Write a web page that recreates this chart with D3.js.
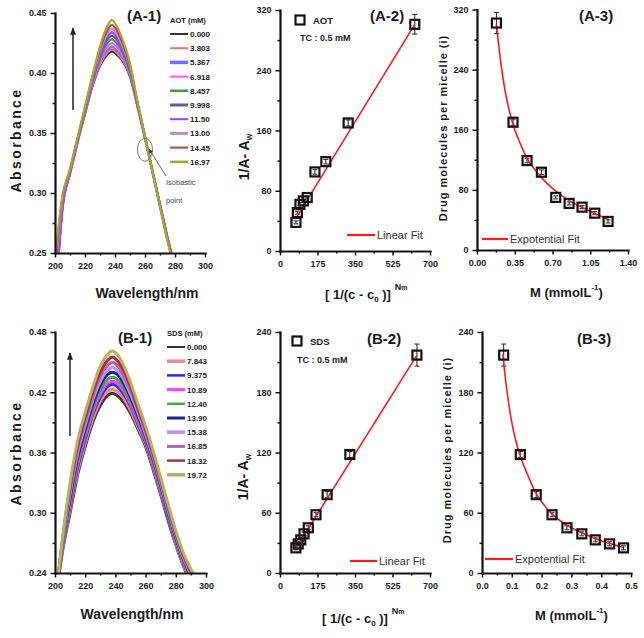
<!DOCTYPE html>
<html><head><meta charset="utf-8">
<script src="https://cdn.jsdelivr.net/npm/d3@7"></script>
<style>
body{margin:0;background:#fff}
svg{display:block}
text{font-family:"Liberation Sans Narrow","Liberation Sans",Arial,sans-serif}
</style></head><body>
<svg id="c" width="644" height="638"></svg>
<script>
// ---------------- DATA ----------------
// (A-1) AOT spectra
const wavelengthsA = [200,205,210,215,220,225,230,235,238,241,245,250,255,260,265,270,275,280];
const aotConc = ["0.000","3.803","5.367","6.918","8.457","9.998","11.50","13.00","14.45","16.97"];
const aotSpectra = [
  [0.200,0.288,0.316,0.342,0.366,0.389,0.406,0.4155,0.418,0.4155,0.410,0.397,0.372,0.346,0.318,0.290,0.263,0.238],
  [0.204,0.289,0.316,0.342,0.367,0.390,0.407,0.417,0.420,0.417,0.411,0.398,0.372,0.346,0.318,0.290,0.263,0.238],
  [0.207,0.290,0.317,0.343,0.367,0.390,0.409,0.419,0.422,0.419,0.413,0.399,0.373,0.346,0.318,0.290,0.262,0.237],
  [0.212,0.291,0.317,0.343,0.368,0.391,0.410,0.422,0.425,0.422,0.415,0.400,0.373,0.346,0.318,0.290,0.262,0.237],
  [0.217,0.292,0.318,0.344,0.368,0.393,0.412,0.425,0.428,0.425,0.417,0.401,0.374,0.346,0.318,0.290,0.262,0.237],
  [0.223,0.293,0.318,0.344,0.369,0.394,0.414,0.428,0.431,0.428,0.419,0.403,0.374,0.347,0.318,0.290,0.262,0.236],
  [0.205,0.287,0.319,0.345,0.370,0.395,0.416,0.430,0.434,0.430,0.421,0.404,0.375,0.347,0.318,0.289,0.261,0.236],
  [0.233,0.295,0.319,0.345,0.370,0.396,0.418,0.433,0.437,0.433,0.423,0.405,0.375,0.347,0.318,0.289,0.261,0.235],
  [0.238,0.297,0.319,0.345,0.371,0.397,0.420,0.436,0.440,0.436,0.425,0.406,0.375,0.347,0.318,0.289,0.261,0.235],
  [0.245,0.298,0.320,0.346,0.372,0.398,0.422,0.4395,0.444,0.4395,0.428,0.408,0.376,0.347,0.318,0.289,0.260,0.234]
];
// (B-1) SDS spectra
const wavelengthsB = [202,205,210,215,220,225,230,235,238,241,245,250,255,260,265,270,275,280,285,290,295];
const sdsConc = ["0.000","7.843","9.375","10.89","12.40","13.90","15.38","16.85","18.32","19.72"];
const sdsSpectra = [
  [0.232,0.262,0.300,0.338,0.366,0.390,0.407,0.417,0.419,0.417,0.411,0.399,0.383,0.366,0.343,0.318,0.292,0.268,0.247,0.230,0.216],
  [0.232,0.263,0.303,0.341,0.369,0.393,0.411,0.421,0.423,0.421,0.415,0.402,0.385,0.368,0.345,0.320,0.294,0.269,0.248,0.231,0.217],
  [0.233,0.265,0.306,0.345,0.373,0.398,0.415,0.426,0.428,0.426,0.419,0.406,0.388,0.370,0.347,0.322,0.295,0.271,0.250,0.233,0.219],
  [0.233,0.266,0.309,0.348,0.376,0.400,0.418,0.429,0.431,0.429,0.422,0.408,0.390,0.372,0.348,0.323,0.297,0.272,0.251,0.234,0.220],
  [0.234,0.267,0.311,0.351,0.379,0.403,0.422,0.433,0.435,0.433,0.425,0.411,0.393,0.374,0.350,0.325,0.298,0.273,0.252,0.235,0.221],
  [0.234,0.269,0.315,0.355,0.383,0.408,0.427,0.438,0.440,0.438,0.430,0.415,0.396,0.376,0.353,0.327,0.300,0.275,0.254,0.237,0.223],
  [0.235,0.270,0.319,0.359,0.387,0.412,0.431,0.442,0.445,0.442,0.434,0.418,0.399,0.378,0.355,0.329,0.302,0.277,0.255,0.239,0.225],
  [0.235,0.272,0.322,0.363,0.391,0.416,0.436,0.447,0.450,0.447,0.438,0.422,0.402,0.381,0.357,0.331,0.304,0.278,0.257,0.240,0.226],
  [0.235,0.273,0.326,0.367,0.395,0.420,0.440,0.452,0.455,0.452,0.443,0.426,0.404,0.383,0.359,0.333,0.306,0.280,0.258,0.242,0.228],
  [0.236,0.275,0.330,0.372,0.400,0.425,0.446,0.458,0.461,0.458,0.448,0.430,0.408,0.386,0.362,0.335,0.308,0.282,0.260,0.244,0.230]
];
// (A-2) AOT linear plot
const aotInvC = [629, 318, 214, 163, 127, 109, 93, 81, 74.5];
const aotInvA = [301, 170, 118.6, 105, 71, 66.5, 62, 51, 38];
const aotInvAErr = [13, 4, 3, 3, 2, 2, 2, 2, 2];
const aotLinFitX = [80, 629];
const aotLinFitY = [46, 301];
// (A-3) AOT drug molecules per micelle
const aotM = [0.18, 0.334, 0.464, 0.597, 0.73, 0.854, 0.974, 1.092, 1.215];
const aotI = [302, 170, 119, 103.5, 70, 62, 57, 49, 38];
const aotIErr = [14, 4, 3, 3, 2, 2, 2, 2, 2];
const aotExpFitM = [0.18, 0.22, 0.26, 0.30, 0.35, 0.40, 0.46, 0.53, 0.60, 0.70, 0.80, 0.90, 1.00, 1.10, 1.22];
const aotExpFitI = [300, 250, 212, 185, 160, 142, 123, 108, 96, 82, 71, 62, 55, 48, 41];
// (B-2) SDS linear plot
const sdsInvC = [639, 326, 220, 168, 132, 112, 97, 85, 74];
const sdsInvA = [217, 118, 78, 58, 45, 39, 33, 29, 25];
const sdsInvAErr = [11, 3, 3, 2, 2, 2, 2, 2, 2];
const sdsLinFitX = [80, 639];
const sdsLinFitY = [26.5, 217];
// (B-3) SDS drug molecules per micelle
const sdsM = [0.0727, 0.1285, 0.182, 0.235, 0.285, 0.335, 0.38, 0.428, 0.475];
const sdsI = [217, 118, 78, 58, 45, 39, 33, 29, 25];
const sdsIErr = [11, 3, 3, 2, 2, 2, 2, 2, 2];
const sdsExpFitM = [0.07, 0.08, 0.09, 0.10, 0.115, 0.13, 0.15, 0.18, 0.21, 0.25, 0.30, 0.35, 0.40, 0.45, 0.475];
const sdsExpFitI = [218, 190, 168, 150, 130, 115, 100, 80, 67, 55, 45, 38, 32, 27.5, 25.5];
// tick values
const ticksA1x = [200,220,240,260,280,300], minorA1x = [210,230,250,270,290];
const ticksA1y = [0.25,0.30,0.35,0.40,0.45], minorA1y = [0.275,0.325,0.375,0.425];
const ticksB1y = [0.24,0.30,0.36,0.42,0.48], minorB1y = [0.27,0.33,0.39,0.45];
const ticksX2 = [0,175,350,525,700], minorX2 = [87.5,262.5,437.5,612.5];
const ticksA2y = [0,80,160,240,320], minorA2y = [40,120,200,280];
const ticksB2y = [0,60,120,180,240], minorB2y = [30,90,150,210];
const ticksA3x = [0,0.35,0.70,1.05,1.40], minorA3x = [0.175,0.525,0.875,1.225];
const ticksB3x = [0,0.1,0.2,0.3,0.4,0.5], minorB3x = [0.05,0.15,0.25,0.35,0.45];

// ---------------- STYLE ----------------
const aotColors = ["#333333","#ff6f6f","#6f6fff","#ff55ff","#3e9e3e","#5f5fa8","#a040ff","#cc8ccc","#a84848","#a8a830"];
const sdsColors = ["#333333","#ff8484","#2a2aff","#ff3cff","#45a845","#1e1e8c","#c08cff","#b064b0","#a83232","#b4b464"];
const svg = d3.select('#c');
const defs = svg.append('defs');
defs.append('marker').attr('id','arr').attr('viewBox','0 0 10 10').attr('refX',9).attr('refY',5)
  .attr('markerWidth',5).attr('markerHeight',6).attr('orient','auto-start-reverse')
  .append('path').attr('d','M0,1 L10,5 L0,9 Z').attr('fill','#222');
defs.append('marker').attr('id','arrg').attr('viewBox','0 0 10 10').attr('refX',9).attr('refY',5)
  .attr('markerWidth',5).attr('markerHeight',5).attr('orient','auto')
  .append('path').attr('d','M0,1 L10,5 L0,9 Z').attr('fill','#333');

function axes(g, x, y, o) {
  const y0 = y.range()[0], x0 = x.range()[0];
  const gx = g.append('g').attr('transform',`translate(0,${y0})`)
    .call(d3.axisBottom(x).tickValues(o.xt).tickFormat(o.xf).tickSizeInner(4.5).tickSizeOuter(0).tickPadding(5));
  const gxm = g.append('g').attr('transform',`translate(0,${y0})`)
    .call(d3.axisBottom(x).tickValues(o.xm).tickFormat('').tickSizeInner(2.5).tickSizeOuter(0));
  gxm.select('.domain').remove();
  const gy = g.append('g').attr('transform',`translate(${x0},0)`)
    .call(d3.axisLeft(y).tickValues(o.yt).tickFormat(o.yf).tickSizeInner(4.5).tickSizeOuter(0).tickPadding(4));
  const gym = g.append('g').attr('transform',`translate(${x0},0)`)
    .call(d3.axisLeft(y).tickValues(o.ym).tickFormat('').tickSizeInner(2.5).tickSizeOuter(0));
  gym.select('.domain').remove();
  [gx,gxm,gy,gym].forEach(a=>{
    a.selectAll('.domain').attr('stroke','#111').attr('stroke-width',2.2).attr('stroke-linecap','square');
    a.selectAll('.tick line').attr('stroke','#111').attr('stroke-width',1.5);
    a.selectAll('text').attr('font-size',9).attr('font-weight','bold').attr('fill','#1a1a1a')
      .style('font-family','"Liberation Sans Narrow","Liberation Sans",Arial,sans-serif');
  });
}
function txt(x, y, s, size, opts={}) {
  const t = svg.append('text').attr('x',x).attr('y',y).attr('font-size',size)
    .attr('font-weight',opts.w||'bold').attr('fill',opts.fill||'#1a1a1a')
    .attr('text-anchor',opts.anchor||'start');
  if (opts.ls) t.attr('letter-spacing',opts.ls);
  if (opts.family) t.style('font-family',opts.family);
  if (opts.rot) t.attr('transform',`rotate(-90,${x},${y})`);
  t.text(s);
  return t;
}
const ARIAL = '"Liberation Sans",Arial,sans-serif';

// ---------- spectra panels ----------
function spectra(id, wl, spectraArr, colors, conc, name, xr, yd, yr, ticksY, minorY, lw, leg) {
  const x = d3.scaleLinear().domain([200,300]).range(xr);
  const y = d3.scaleLinear().domain(yd).range(yr);
  const g = svg.append('g');
  defs.append('clipPath').attr('id',id).append('rect')
    .attr('x',xr[0]).attr('y',yr[1]-2).attr('width',xr[1]-xr[0]).attr('height',yr[0]-yr[1]+2);
  const line = d3.line().x(d=>x(d[0])).y(d=>y(d[1])).curve(d3.curveMonotoneX);
  const cg = g.append('g').attr('clip-path',`url(#${id})`);
  spectraArr.forEach((s,i)=>{
    cg.append('path').attr('d',line(wl.map((w,j)=>[w,s[j]]))).attr('fill','none')
      .attr('stroke',colors[i]).attr('stroke-width',lw);
  });
  axes(g, x, y, {xt:ticksA1x, xm:minorA1x, xf:d3.format('d'), yt:ticksY, ym:minorY, yf:d3.format('.2f')});
  // legend
  txt(leg.x, leg.y, name + ' (mM)', 7.5, {});
  conc.forEach((c,i)=>{
    const yy = leg.y0 + i*leg.dy;
    svg.append('line').attr('x1',leg.x).attr('x2',leg.x+18).attr('y1',yy).attr('y2',yy)
      .attr('stroke',colors[i]).attr('stroke-width', leg.lw[i]);
    txt(leg.x+20, yy+3, c, 8, {});
  });
  return {x,y};
}
const A1 = spectra('clipA1', wavelengthsA, aotSpectra, aotColors, aotConc, 'AOT', [55,205], [0.25,0.45], [253,13], ticksA1y, minorA1y, 2.2,
  {x:170, y:23, y0:34, dy:14.2, lw:[2,2,3.5,2,2.5,3,2,3,2,2.5]});
const B1 = spectra('clipB1', wavelengthsB, sdsSpectra, sdsColors, sdsConc, 'SDS', [55,206], [0.24,0.48], [573,332], ticksB1y, minorB1y, 3,
  {x:167, y:336, y0:347, dy:14.2, lw:[2,3.5,2.5,3,2.5,3,3.5,3,2.5,3.5]});

// arrows in spectra
svg.append('line').attr('x1',73).attr('y1',110).attr('x2',73).attr('y2',28)
  .attr('stroke','#222').attr('stroke-width',1.5).attr('marker-end','url(#arr)');
svg.append('line').attr('x1',70).attr('y1',436).attr('x2',70).attr('y2',353)
  .attr('stroke','#222').attr('stroke-width',1.5).attr('marker-end','url(#arr)');
// isosbestic point
svg.append('ellipse').attr('cx',A1.x(260)).attr('cy',A1.y(0.336)).attr('rx',7.5).attr('ry',11.5)
  .attr('fill','none').attr('stroke','#777').attr('stroke-width',1);
svg.append('line').attr('x1',166).attr('y1',176).attr('x2',149).attr('y2',149)
  .attr('stroke','#666').attr('stroke-width',1).attr('marker-end','url(#arrg)');
txt(166, 185, 'Isobastic', 7.5, {w:'normal', fill:'#444'});
txt(166, 203, 'point', 7.5, {w:'normal', fill:'#444'});

// panel labels
txt(127, 21, '(A-1)', 15, {family:ARIAL});
txt(118, 343, '(B-1)', 15, {family:ARIAL});
txt(370, 21, '(A-2)', 15, {family:ARIAL});
txt(367, 344, '(B-2)', 15, {family:ARIAL});
txt(579, 21, '(A-3)', 15, {family:ARIAL});
txt(577, 344, '(B-3)', 15, {family:ARIAL});

// axis titles spectra
txt(21, 140, 'Absorbance', 14, {anchor:'middle', rot:true, ls:2.4, family:ARIAL});
txt(21, 453, 'Absorbance', 14, {anchor:'middle', rot:true, ls:2.4, family:ARIAL});
txt(147, 298, 'Wavelength/nm', 14, {anchor:'middle', family:ARIAL});
txt(132, 619, 'Wavelength/nm', 14, {anchor:'middle', family:ARIAL});

// ---------- scatter panels ----------
function scatter(xs, ys, errs, xd, xr, yd, yr, xt, xm, xf, yt, ym, fit, fitCurve) {
  const x = d3.scaleLinear().domain(xd).range(xr);
  const y = d3.scaleLinear().domain(yd).range(yr);
  const g = svg.append('g');
  axes(g, x, y, {xt, xm, xf, yt, ym, yf:d3.format('d')});
  // error bars
  xs.forEach((v,i)=>{
    const cx = x(v), y1 = y(ys[i]-errs[i]), y2 = y(ys[i]+errs[i]);
    g.append('line').attr('x1',cx).attr('x2',cx).attr('y1',y1).attr('y2',y2).attr('stroke','#222').attr('stroke-width',1);
    [y1,y2].forEach(yy=>g.append('line').attr('x1',cx-2.5).attr('x2',cx+2.5).attr('y1',yy).attr('y2',yy).attr('stroke','#222').attr('stroke-width',1));
  });
  // fit
  const ln = d3.line().x(d=>x(d[0])).y(d=>y(d[1])).curve(fitCurve);
  g.append('path').attr('d', ln(fit[0].map((v,i)=>[v,fit[1][i]]))).attr('fill','none')
    .attr('stroke','#ff1a1a').attr('stroke-width',1.6);
  // markers
  xs.forEach((v,i)=>{
    g.append('rect').attr('x',x(v)-4.5).attr('y',y(ys[i])-4.5).attr('width',9).attr('height',9)
      .attr('fill','none').attr('stroke','#111').attr('stroke-width',2.2);
  });
  return {x,y};
}
scatter(aotInvC, aotInvA, aotInvAErr, [0,700], [280,430], [0,320], [251,10], ticksX2, minorX2, d3.format('d'), ticksA2y, minorA2y, [aotLinFitX, aotLinFitY], d3.curveLinear);
scatter(sdsInvC, sdsInvA, sdsInvAErr, [0,700], [280,430], [0,240], [573,332], ticksX2, minorX2, d3.format('d'), ticksB2y, minorB2y, [sdsLinFitX, sdsLinFitY], d3.curveLinear);
scatter(aotM, aotI, aotIErr, [0,1.4], [477,628], [0,320], [250,9.5], ticksA3x, minorA3x, d3.format('.2f'), ticksA2y, minorA2y, [aotExpFitM, aotExpFitI], d3.curveMonotoneX);
scatter(sdsM, sdsI, sdsIErr, [0,0.5], [482,631], [0,240], [573,332], ticksB3x, minorB3x, d3.format('.1f'), ticksB2y, minorB2y, [sdsExpFitM, sdsExpFitI], d3.curveMonotoneX);

// legends in scatter panels
function sqLegend(cx, cy, name, tcY) {
  svg.append('rect').attr('x',cx-4.5).attr('y',cy-4.5).attr('width',9).attr('height',9)
    .attr('fill','none').attr('stroke','#111').attr('stroke-width',2.2);
  txt(cx+13, cy+3.5, name, 9.5, {family:ARIAL});
  txt(cx, tcY, 'TC : 0.5 mM', 9, {family:ARIAL});
}
sqLegend(300, 20, 'AOT', 41);
sqLegend(297, 341, 'SDS', 363);
function fitLegend(x1, x2, yy, label) {
  svg.append('line').attr('x1',x1).attr('x2',x2).attr('y1',yy).attr('y2',yy).attr('stroke','#ff1a1a').attr('stroke-width',2.2);
  txt(x2+2, yy+4, label, 11, {w:'normal', fill:'#333'});
}
fitLegend(347, 375, 235, 'Linear Fit');
fitLegend(350, 377, 561, 'Linear Fit');
fitLegend(482, 508, 239, 'Expotential Fit');
fitLegend(485, 513, 559, 'Expotential Fit');

// y titles scatter
function yTitle2(x, y, size) {
  const t = svg.append('text').attr('x',x).attr('y',y).attr('font-size',size).attr('font-weight','bold')
    .attr('fill','#1a1a1a').attr('text-anchor','middle').attr('transform',`rotate(-90,${x},${y})`).style('font-family',ARIAL);
  t.append('tspan').text('1/A- A');
  t.append('tspan').attr('font-size',size*0.6).attr('dy',3).text('w');
}
yTitle2(249, 157, 14);
yTitle2(248, 477, 14);
txt(447, 128, 'Drug molecules per micelle (i)', 11, {anchor:'middle', rot:true, ls:1, family:ARIAL});
txt(451, 450, 'Drug molecules per micelle (i)', 11, {anchor:'middle', rot:true, ls:1, family:ARIAL});

// x titles scatter
function xTitle2(x, y) {
  const t = svg.append('text').attr('x',x).attr('y',y).attr('font-size',13).attr('font-weight','bold')
    .attr('fill','#1a1a1a').style('font-family',ARIAL);
  t.append('tspan').text('[ 1/(c - c');
  t.append('tspan').attr('font-size',8).attr('dy',3).text('0');
  t.append('tspan').attr('dy',-3).text(' )]');
  t.append('tspan').attr('font-size',9).attr('dx',4).attr('dy',-9).text('N');
  t.append('tspan').attr('font-size',7).text('m');
}
xTitle2(325, 299);
xTitle2(322, 623);
function xTitle3(x, y) {
  const t = svg.append('text').attr('x',x).attr('y',y).attr('font-size',13).attr('font-weight','bold')
    .attr('fill','#1a1a1a').style('font-family',ARIAL);
  t.append('tspan').text('M (mmolL');
  t.append('tspan').attr('font-size',8).attr('dy',-7).text('-1');
  t.append('tspan').attr('dy',7).text(')');
}
xTitle3(530, 297);
xTitle3(535, 620);
</script>
</body></html>
